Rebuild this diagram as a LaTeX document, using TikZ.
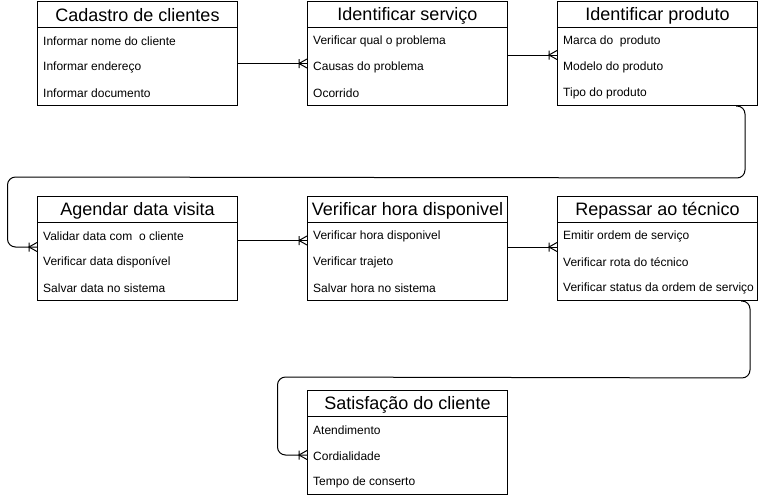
\documentclass[tikz,border=0pt]{standalone}
\usepackage{fontspec}
\setmainfont{Liberation Sans}
\usetikzlibrary{calc}
\tikzset{
  tbl/.style={draw, line width=1pt, minimum width=200pt, minimum height=104pt, inner sep=0pt, anchor=north west},
  ttl/.style={font=\fontsize{18}{21}\selectfont, inner sep=0pt},
  rowtxt/.style={font=\fontsize{12}{14}\selectfont, anchor=west, inner sep=0pt},
  conn/.style={line width=1pt},
  crowfoot/.pic={\draw[line width=1pt] (-8,-4.5) -- (-8,4.5) (0,-4.5) -- (-8,0) -- (0,4.5);}
}
\newcommand{\ertable}[7]{%
  \node[tbl] (#1) at (#2,#3) {};
  \draw[line width=1pt] ($(#1.north west)+(0,26)$) -- ($(#1.north east)+(0,26)$);
  \node[ttl] (#1-t) at ($(#1.north)+(0,14.5)$) {#4};
  \node[rowtxt] (#1-1) at ($(#1.north west)+(6,40.5)$) {#5};
  \node[rowtxt] (#1-2) at ($(#1.north west)+(6,66.5)$) {#6};
  \node[rowtxt] (#1-3) at ($(#1.north west)+(6,92)$) {#7};
}
\begin{document}
\begin{tikzpicture}[x=1pt,y=-1pt]
\useasboundingbox (0,0) rectangle (758,498);
\ertable{A}{37}{1}{Cadastro de clientes}{Informar nome do cliente}{Informar endereço}{Informar documento}
\ertable{B}{307}{1}{Identificar serviço}{Verificar qual o problema}{Causas do problema}{Ocorrido}
\ertable{C}{557}{1}{Identificar produto}{Marca do~~produto}{Modelo do produto}{Tipo do produto}
\ertable{D}{37}{196}{Agendar data visita}{Validar data com~~o cliente}{Verificar data disponível}{Salvar data no sistema}
\ertable{E}{307}{196}{Verificar hora disponivel}{Verificar hora disponivel}{Verificar trajeto}{Salvar hora no sistema}
\ertable{F}{557}{196}{Repassar ao técnico}{Emitir ordem de serviço}{Verificar rota do técnico}{Verificar status da ordem de serviço}
\ertable{G}{307}{390}{Satisfação do cliente}{Atendimento}{Cordialidade}{Tempo de conserto}

% A -> B
\draw[conn] ($(A.north east)+(0,62.5)$) -- ($(B.north west)+(0,62.5)$);
\pic at ($(B.north west)+(0,62.5)$) {crowfoot};
% B -> C
\draw[conn] ($(B.north east)+(0,54)$) -- ($(C.north west)+(0,54)$);
\pic at ($(C.north west)+(0,54)$) {crowfoot};
% D -- E
\draw[conn] ($(D.north east)+(0,44.5)$) -- ($(E.north west)+(0,44.5)$);
\pic at ($(E.north west)+(0,44.5)$) {crowfoot};
% E -> F
\draw[conn] ($(E.north east)+(0,51)$) -- ($(F.north west)+(0,51)$);
\pic at ($(F.north west)+(0,51)$) {crowfoot};
% C -> D
\draw[conn, rounded corners=8pt] ($(C.south east)+(-22,0)$) -- ($(C.south east)+(-13,0)$) -- ++(0,72) -- (7.5,177) -- (7.5,247) -- ($(D.north west)+(0,51)$);
\pic at ($(D.north west)+(0,51)$) {crowfoot};
% F -> G
\draw[conn, rounded corners=8pt] ($(F.south east)+(-17,0)$) -- ($(F.south east)+(-8,0)$) -- ++(0,77) -- (277.5,377) -- (277.5,455) -- ($(G.north west)+(0,65)$);
\pic at ($(G.north west)+(0,65)$) {crowfoot};
\end{tikzpicture}
\end{document}
